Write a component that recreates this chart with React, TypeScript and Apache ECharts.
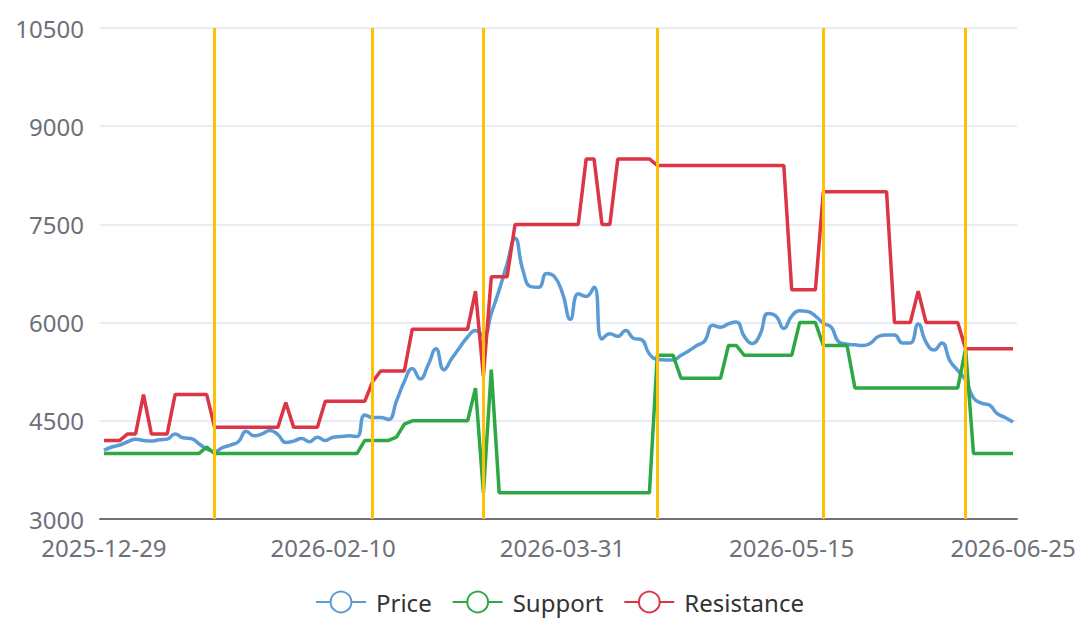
import React, { useEffect, useRef } from 'react';
import * as echarts from 'echarts';

// Trading-day categories (weekdays minus market holidays)
const START_DATE = '2025-12-29';
const END_DATE = '2026-06-25';
const HOLIDAYS = [
  '2026-01-01', '2026-01-02',
  '2026-02-16', '2026-02-17', '2026-02-18', '2026-02-19', '2026-02-20', '2026-02-23',
  '2026-04-06',
  '2026-05-01', '2026-05-04', '2026-05-05',
  '2026-06-19',
];

function buildTradingDays(start: string, end: string, holidays: string[]): string[] {
  const out: string[] = [];
  const [sy, sm, sd] = start.split('-').map(Number);
  const [ey, em, ed] = end.split('-').map(Number);
  let t = Date.UTC(sy, sm - 1, sd);
  const tEnd = Date.UTC(ey, em - 1, ed);
  while (t <= tEnd) {
    const d = new Date(t);
    const wd = d.getUTCDay();
    const s = d.toISOString().slice(0, 10);
    if (wd !== 0 && wd !== 6 && holidays.indexOf(s) < 0) out.push(s);
    t += 86400000;
  }
  return out;
}

const dates = buildTradingDays(START_DATE, END_DATE, HOLIDAYS);

const price = [
  4050, 4100, 4130, 4180, 4220, 4200, 4190, 4210, 4220, 4300,
  4240, 4230, 4150, 4070, 4030, 4090, 4130, 4180, 4340, 4270,
  4300, 4350, 4290, 4170, 4190, 4230, 4180, 4250, 4200, 4250,
  4260, 4270, 4260, 4590, 4550, 4550, 4520, 4800, 5100, 5300,
  5140, 5350, 5600, 5280, 5450, 5620, 5780, 5880, 5800, 6140,
  6500, 6900, 7290, 6800, 6550, 6540, 6750, 6700, 6450, 6050,
  6440, 6400, 6540, 5750, 5830, 5790, 5880, 5760, 5740, 5520,
  5440, 5430, 5430, 5500, 5570, 5650, 5720, 5960, 5930, 5980,
  6010, 5790, 5680, 5820, 6140, 6100, 5910, 6100, 6180, 6170,
  6100, 5990, 5930, 5700, 5670, 5660, 5650, 5690, 5790, 5810,
  5810, 5690, 5690, 5980, 5700, 5580, 5690, 5420, 5270, 5120,
  4850, 4770, 4740, 4610, 4550, 4480,
];

const support = [
  4000, 4000, 4000, 4000, 4000, 4000, 4000, 4000, 4000, 4000,
  4000, 4000, 4000, 4100, 4000, 4000, 4000, 4000, 4000, 4000,
  4000, 4000, 4000, 4000, 4000, 4000, 4000, 4000, 4000, 4000,
  4000, 4000, 4000, 4200, 4200, 4200, 4200, 4250, 4450, 4500,
  4500, 4500, 4500, 4500, 4500, 4500, 4500, 5000, 3400, 5280,
  3400, 3400, 3400, 3400, 3400, 3400, 3400, 3400, 3400, 3400,
  3400, 3400, 3400, 3400, 3400, 3400, 3400, 3400, 3400, 3400,
  5500, 5500, 5500, 5150, 5150, 5150, 5150, 5150, 5150, 5650,
  5650, 5500, 5500, 5500, 5500, 5500, 5500, 5500, 6000, 6000,
  6000, 5650, 5650, 5650, 5650, 5000, 5000, 5000, 5000, 5000,
  5000, 5000, 5000, 5000, 5000, 5000, 5000, 5000, 5000, 5600,
  4000, 4000, 4000, 4000, 4000, 4000,
];

const resistance = [
  4200, 4200, 4200, 4300, 4300, 4900, 4300, 4300, 4300, 4900,
  4900, 4900, 4900, 4900, 4400, 4400, 4400, 4400, 4400, 4400,
  4400, 4400, 4400, 4780, 4400, 4400, 4400, 4400, 4800, 4800,
  4800, 4800, 4800, 4800, 5100, 5260, 5260, 5260, 5260, 5900,
  5900, 5900, 5900, 5900, 5900, 5900, 5900, 6480, 5180, 6700,
  6700, 6700, 7500, 7500, 7500, 7500, 7500, 7500, 7500, 7500,
  7500, 8500, 8500, 7500, 7500, 8500, 8500, 8500, 8500, 8500,
  8400, 8400, 8400, 8400, 8400, 8400, 8400, 8400, 8400, 8400,
  8400, 8400, 8400, 8400, 8400, 8400, 8400, 6500, 6500, 6500,
  6500, 8000, 8000, 8000, 8000, 8000, 8000, 8000, 8000, 8000,
  6000, 6000, 6000, 6480, 6000, 6000, 6000, 6000, 6000, 5600,
  5600, 5600, 5600, 5600, 5600, 5600,
];

const signalDates = ['2026-01-20', '2026-02-25', '2026-03-17', '2026-04-17', '2026-05-21', '2026-06-16'];

const Y_MIN = 3000;
const Y_MAX = 10500;
const Y_INTERVAL = 1500;

const COLORS = {
  price: '#5B9BD5',
  support: '#2EA844',
  resistance: '#DC3545',
  signal: '#FFC107',
};

export default function App() {
  const ref = useRef<HTMLDivElement>(null);

  useEffect(() => {
    if (!ref.current) return;
    const chart = echarts.init(ref.current, undefined, { renderer: 'svg' });
    const font = 'Noto Sans';
    chart.setOption({
      animation: false,
      textStyle: { fontFamily: font },
      grid: { left: 100, right: 65, top: 28, bottom: 99 },
      legend: {
        left: 310,
        top: 585,
        itemWidth: 50,
        itemHeight: 26,
        itemGap: 20,
        textStyle: { fontSize: 24, color: '#333', fontFamily: font, padding: [0, 0, 0, 5] },
        data: ['Price', 'Support', 'Resistance'],
      },
      xAxis: {
        type: 'category',
        data: dates,
        boundaryGap: true,
        axisLine: { lineStyle: { color: '#6E7079', width: 2 } },
        axisTick: { length: 9, lineStyle: { width: 2, color: '#6E7079' } },
        axisLabel: {
          interval: 28,
          showMaxLabel: true,
          fontSize: 24,
          lineHeight: 22,
          margin: 17,
          color: '#6E7079',
          fontFamily: font,
        },
      },
      yAxis: {
        type: 'value',
        min: Y_MIN,
        max: Y_MAX,
        interval: Y_INTERVAL,
        axisLabel: {
          fontSize: 24,
          lineHeight: 22,
          margin: 16,
          color: '#6E7079',
          fontFamily: font,
          padding: [0, 0, 3, 0],
          formatter: (v: number) => String(v),
        },
        splitLine: { lineStyle: { color: '#E0E6F1', width: 1.5 } },
      },
      series: [
        {
          name: 'Price',
          type: 'line',
          data: price,
          smooth: true,
          showSymbol: false,
          symbol: 'emptyCircle',
          lineStyle: { width: 3.5, color: COLORS.price },
          itemStyle: { color: COLORS.price },
        },
        {
          name: 'Support',
          type: 'line',
          data: support,
          showSymbol: false,
          symbol: 'emptyCircle',
          lineStyle: { width: 3.5, color: COLORS.support },
          itemStyle: { color: COLORS.support },
        },
        {
          name: 'Resistance',
          type: 'line',
          data: resistance,
          showSymbol: false,
          symbol: 'emptyCircle',
          lineStyle: { width: 3.5, color: COLORS.resistance },
          itemStyle: { color: COLORS.resistance },
          markLine: {
            silent: true,
            symbol: ['none', 'none'],
            label: { show: false },
            lineStyle: { color: COLORS.signal, width: 3, type: 'solid' },
            emphasis: { disabled: true },
            data: signalDates.map((d) => ({ xAxis: d })),
          },
        },
      ],
    });
    return () => chart.dispose();
  }, []);

  return (
    <div
      ref={ref}
      style={{ position: 'fixed', left: 0, top: 0, width: 1082, height: 618, background: '#fff' }}
    />
  );
}
